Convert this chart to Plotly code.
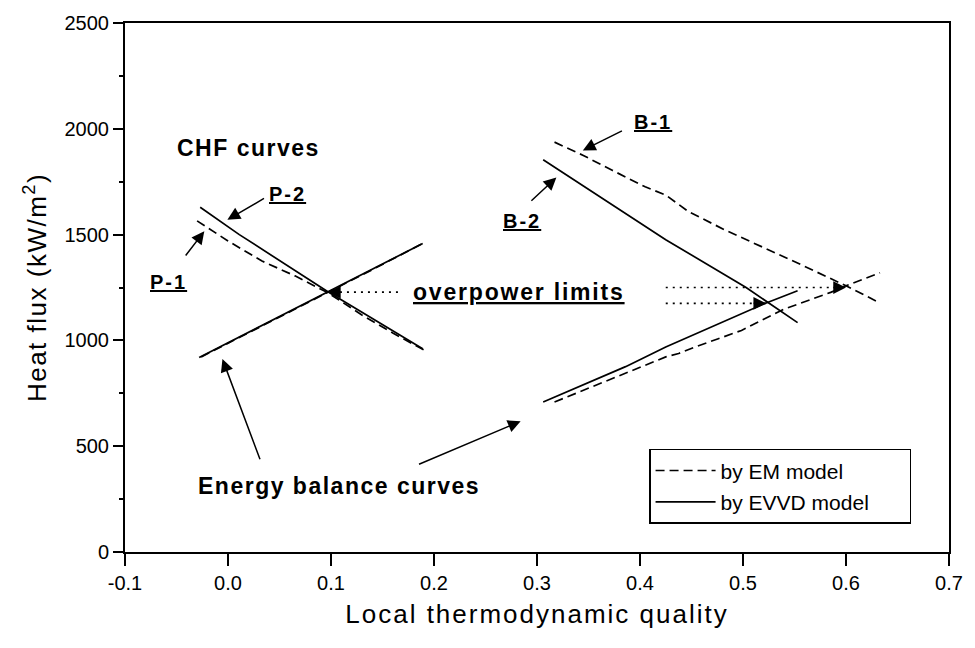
import plotly.graph_objects as go

# ---- P cases (left group) ----
p1_em_chf_x = [-0.030, 0.000, 0.033, 0.065, 0.097, 0.130, 0.160, 0.190]
p1_em_chf_y = [1565, 1470, 1375, 1305, 1225, 1120, 1035, 955]
p2_evvd_chf_x = [-0.027, 0.011, 0.097, 0.189]
p2_evvd_chf_y = [1629, 1500, 1230, 961]
p_evvd_eb_x = [-0.028, 0.097, 0.189]
p_evvd_eb_y = [919, 1230, 1458]
p_em_eb_x = [-0.026, 0.020, 0.060, 0.097, 0.140, 0.190]
p_em_eb_y = [922, 1036, 1134, 1227, 1334, 1461]

# ---- B cases (right group) ----
b1_em_chf_x = [0.317, 0.345, 0.373, 0.405, 0.425, 0.447, 0.482, 0.521, 0.559, 0.600, 0.633]
b1_em_chf_y = [1937, 1874, 1804, 1726, 1687, 1609, 1523, 1437, 1352, 1258, 1177]
b2_evvd_chf_x = [0.306, 0.390, 0.425, 0.503, 0.553]
b2_evvd_chf_y = [1854, 1590, 1476, 1250, 1084]
b_evvd_eb_x = [0.306, 0.386, 0.425, 0.460, 0.5225, 0.553]
b_evvd_eb_y = [709, 876, 969, 1043, 1177, 1235]
b_em_eb_x = [0.317, 0.383, 0.425, 0.4375, 0.4535, 0.476, 0.4985, 0.540, 0.5626, 0.5851, 0.600, 0.633]
b_em_eb_y = [709, 837, 922, 938, 969, 1008, 1047, 1148, 1188, 1227, 1258, 1320]

# ---- overpower limits (dotted pointers: start x, end x, heat flux) ----
op_start_x = [0.165, 0.425, 0.425]
op_end_x = [0.097, 0.600, 0.5225]
op_y = [1228, 1250, 1175]

# ---- axis ticks ----
x_ticks = [-0.1, 0.0, 0.1, 0.2, 0.3, 0.4, 0.5, 0.6, 0.7]
x_tick_text = ["-0.1", "0.0", "0.1", "0.2", "0.3", "0.4", "0.5", "0.6", "0.7"]
y_ticks = [0, 500, 1000, 1500, 2000, 2500]

FONT = "Liberation Sans, Arial, Helvetica, sans-serif"
DASH = "9px,5px"
DOT = "2px,5px"


def spaced(txt, px):
    return '<span style="letter-spacing:%spx">%s</span>' % (px, txt)


fig = go.Figure()


def add_curve(x, y, dash, name=None, show=False):
    fig.add_trace(go.Scatter(
        x=x, y=y, mode="lines",
        line=dict(color="black", width=1.7, dash=dash),
        name=name, showlegend=show, legendgroup=name or dash,
        hoverinfo="skip",
    ))


add_curve(p1_em_chf_x, p1_em_chf_y, DASH, "by EM model", True)
add_curve(p2_evvd_chf_x, p2_evvd_chf_y, "solid",
          "by EVVD model" + "\u00a0" * 6, True)
add_curve(p_evvd_eb_x, p_evvd_eb_y, "solid")
add_curve(p_em_eb_x, p_em_eb_y, DASH)
add_curve(b1_em_chf_x, b1_em_chf_y, DASH)
add_curve(b2_evvd_chf_x, b2_evvd_chf_y, "solid")
add_curve(b_evvd_eb_x, b_evvd_eb_y, "solid")
add_curve(b_em_eb_x, b_em_eb_y, DASH)

# dotted pointer lines toward the overpower limit points
for xs, xe, yv in zip(op_start_x, op_end_x, op_y):
    fig.add_trace(go.Scatter(
        x=[xs, xe], y=[yv, yv], mode="lines",
        line=dict(color="black", width=1.7, dash=DOT),
        showlegend=False, hoverinfo="skip",
    ))
    direction = -1 if xe > xs else 1
    fig.add_annotation(
        x=xe, y=yv, xref="x", yref="y", text="", showarrow=True,
        ax=14 * direction, ay=0, arrowhead=2, arrowsize=1.7,
        arrowwidth=1.5, arrowcolor="black", standoff=0,
    )

# text labels: text, x, y, font size, underline, letter spacing, anchor
labels = [
    ("CHF curves", 0.020, 1910, 23, False, 1.5, "center"),
    ("P-2", 0.058, 1690, 20, True, 2, "center"),
    ("P-1", -0.058, 1276, 20, True, 2, "center"),
    ("B-1", 0.413, 2034, 20, True, 2, "center"),
    ("B-2", 0.285, 1566, 20, True, 2, "center"),
    ("overpower limits", 0.283, 1231, 23, True, 1.8, "center"),
    ("Energy balance curves", -0.031, 314, 23, False, 1.5, "left"),
]
for txt, lx, ly, size, under, sp, anchor in labels:
    fig.add_annotation(
        x=lx, y=ly, xref="x", yref="y", text="<b>%s</b>" % spaced(txt, sp),
        showarrow=False, xanchor=anchor,
        font=dict(family=FONT, size=size, color="black",
                  lineposition="under" if under else "none"),
    )

# pointer arrows: (tail x, tail y, tip x, tip y)
pointers = [
    (0.0364, 1675, -0.0006, 1570),
    (-0.0422, 1394, -0.023, 1516),
    (0.3839, 1994, 0.3445, 1898),
    (0.2931, 1653, 0.3188, 1770),
    (0.0316, 431, -0.0054, 912),
    (0.184, 412, 0.2841, 618),
]
for tx, ty, hx, hy in pointers:
    fig.add_annotation(
        x=hx, y=hy, ax=tx, ay=ty, xref="x", yref="y", axref="x", ayref="y",
        text="", showarrow=True, arrowhead=2, arrowsize=1.7,
        arrowwidth=1.5, arrowcolor="black", standoff=0,
    )

fig.update_layout(
    width=975, height=648,
    margin=dict(l=125, r=19, t=18, b=96),
    paper_bgcolor="white", plot_bgcolor="white",
    font=dict(family=FONT, color="black"),
    showlegend=True,
    legend=dict(
        x=0.636, y=0.195, xanchor="left", yanchor="top",
        bordercolor="black", borderwidth=1.5, bgcolor="white",
        font=dict(family=FONT, size=21, color="black"),
        itemwidth=60, tracegroupgap=1,
    ),
)

fig.update_xaxes(
    range=[-0.1, 0.7], tickvals=x_ticks, ticktext=x_tick_text,
    showline=True, linecolor="black", linewidth=2, mirror=True,
    ticks="outside", ticklen=12, tickwidth=2, tickcolor="black",
    showgrid=False, zeroline=False,
    tickfont=dict(family=FONT, size=20, color="black"),
    title=dict(text=spaced("Local thermodynamic quality", 2),
               font=dict(family=FONT, size=26, color="black"), standoff=12),
)
fig.update_yaxes(
    range=[0, 2500], tickvals=y_ticks,
    showline=True, linecolor="black", linewidth=2, mirror=True,
    ticks="outside", ticklen=10, tickwidth=2, tickcolor="black",
    minor=dict(dtick=250, ticks="outside", ticklen=4, tickwidth=1.5, tickcolor="black"),
    showgrid=False, zeroline=False,
    tickfont=dict(family=FONT, size=20, color="black"),
    title=dict(text=spaced("Heat flux (kW/m<sup>2</sup>)", 1.5),
               font=dict(family=FONT, size=26, color="black"), standoff=10),
)

fig.write_html("out.html")
